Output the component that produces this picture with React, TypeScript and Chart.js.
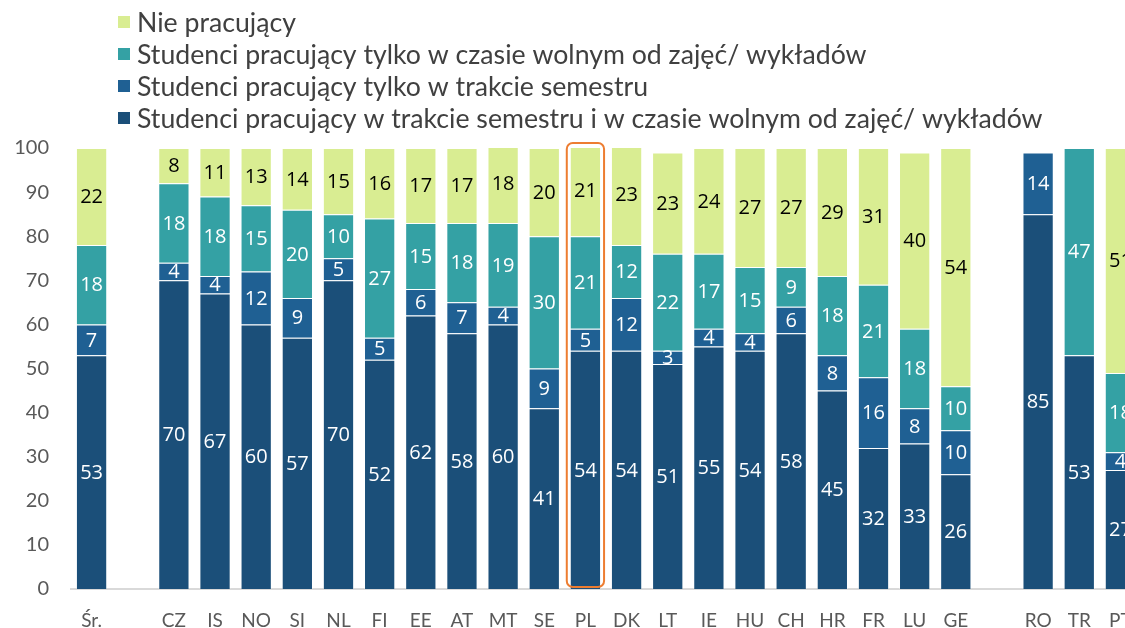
import React, { useEffect, useRef } from 'react';
import { Chart, registerables } from 'chart.js';
Chart.register(...registerables);

const categories = ['Śr.', '', 'CZ', 'IS', 'NO', 'SI', 'NL', 'FI', 'EE', 'AT', 'MT', 'SE', 'PL', 'DK', 'LT', 'IE', 'HU', 'CH', 'HR', 'FR', 'LU', 'GE', ' ', 'RO', 'TR', 'PT'];
const bothValues = [53, null, 70, 67, 60, 57, 70, 52, 62, 58, 60, 41, 54, 54, 51, 55, 54, 58, 45, 32, 33, 26, null, 85, 53, 27];
const semesterOnly = [7, null, 4, 4, 12, 9, 5, 5, 6, 7, 4, 9, 5, 12, 3, 4, 4, 6, 8, 16, 8, 10, null, 14, 0, 4];
const freeTimeOnly = [18, null, 18, 18, 15, 20, 10, 27, 15, 18, 19, 30, 21, 12, 22, 17, 15, 9, 18, 21, 18, 10, null, 0, 47, 18];
const notWorking = [22, null, 8, 11, 13, 14, 15, 16, 17, 17, 18, 20, 21, 23, 23, 24, 27, 27, 29, 31, 40, 54, null, 0, 0, 51];
const seriesLabels = [
  'Studenci pracujący w trakcie semestru i w czasie wolnym od zajęć/ wykładów',
  'Studenci pracujący tylko w trakcie semestru',
  'Studenci pracujący tylko w czasie wolnym od zajęć/ wykładów',
  'Nie pracujący',
];
const seriesColors = ['#1B4F79', '#1F6093', '#34A1A4', '#D9ED92'];
const labelColors = ['#FFFFFF', '#FFFFFF', '#FFFFFF', '#000000'];
const highlighted = 'PL';

const AXIS_FONT = 'Lato, "DejaVu Sans", sans-serif';
const VALUE_FONT = '"Open Sans", "Noto Sans", sans-serif';

const valueLabelPlugin = {
  id: 'valueLabels',
  afterDatasetsDraw(chart: any) {
    const ctx = chart.ctx;
    ctx.save();
    ctx.font = `20px ${VALUE_FONT}`;
    ctx.textAlign = 'center';
    ctx.textBaseline = 'middle';
    chart.data.datasets.forEach((ds: any, di: number) => {
      const meta = chart.getDatasetMeta(di);
      meta.data.forEach((el: any, i: number) => {
        const v = ds.data[i];
        if (v == null || v === 0) return;
        ctx.fillStyle = labelColors[di];
        ctx.fillText(String(v), el.x, (el.y + el.base) / 2 + 1);
      });
    });
    ctx.restore();
  },
};

const highlightPlugin = {
  id: 'highlight',
  afterDatasetsDraw(chart: any) {
    const idx = categories.indexOf(highlighted);
    const el = chart.getDatasetMeta(0).data[idx];
    if (!el) return;
    const y = chart.scales.y;
    const ctx = chart.ctx;
    const left = el.x - el.width / 2 - 3;
    const right = el.x + el.width / 2 + 3;
    const top = y.getPixelForValue(100) - 5;
    const bottom = y.getPixelForValue(0) - 2;
    ctx.save();
    ctx.strokeStyle = '#ED7D31';
    ctx.lineWidth = 2;
    ctx.beginPath();
    ctx.roundRect(left, top, right - left, bottom - top, 6);
    ctx.stroke();
    ctx.restore();
  },
};

const legendPlugin = {
  id: 'customLegend',
  afterDraw(chart: any) {
    const ctx = chart.ctx;
    ctx.save();
    const rows = [22, 54, 86, 118];
    const n = chart.data.datasets.length;
    ctx.font = `20px ${AXIS_FONT}`;
    const w = ctx.measureText(seriesLabels[0]).width;
    const size = 20 * (906 / w);
    ctx.font = `${size}px ${AXIS_FONT}`;
    ctx.textBaseline = 'middle';
    ctx.textAlign = 'left';
    for (let r = 0; r < n; r++) {
      const di = n - 1 - r;
      const ds = chart.data.datasets[di];
      ctx.fillStyle = ds.backgroundColor;
      ctx.fillRect(118, rows[r] - 6, 12, 12);
      ctx.fillStyle = '#404040';
      ctx.fillText(ds.label, 137, rows[r] + 1);
    }
    ctx.restore();
  },
};

export default function App() {
  const ref = useRef<HTMLCanvasElement>(null);
  useEffect(() => {
    if (!ref.current) return;
    const values = [bothValues, semesterOnly, freeTimeOnly, notWorking];
    const chart = new Chart(ref.current, {
      type: 'bar',
      data: {
        labels: categories,
        datasets: values.map((d, i) => ({
          label: seriesLabels[i],
          data: d,
          backgroundColor: seriesColors[i],
          borderColor: 'rgba(255,255,255,0.3)',
          borderWidth: 1,
          barPercentage: 0.76,
          categoryPercentage: 1,
        })),
      },
      options: {
        animation: false,
        responsive: false,
        maintainAspectRatio: false,
        layout: { padding: { top: 148, left: 0, right: 0, bottom: 0 } },
        plugins: {
          legend: { display: false },
          tooltip: { enabled: false },
        },
        scales: {
          x: {
            stacked: true,
            grid: { display: false, drawTicks: false },
            border: { display: true, color: '#D9D9D9', width: 2 },
            ticks: { color: '#595959', font: { family: AXIS_FONT, size: 19 }, padding: 20, autoSkip: false, maxRotation: 0 },
            afterFit: (s: any) => { s.height = 39; s.paddingLeft = 0; s.paddingRight = 0; },
          },
          y: {
            stacked: true,
            min: 0,
            max: 100,
            grid: { display: false, drawTicks: false },
            border: { display: false },
            ticks: { stepSize: 10, color: '#595959', font: { family: AXIS_FONT, size: 20 }, padding: 22 },
            afterFit: (s: any) => { s.width = 71; s.paddingTop = 0; s.paddingBottom = 0; },
          },
        },
      },
      plugins: [valueLabelPlugin, highlightPlugin, legendPlugin],
    });
    return () => chart.destroy();
  }, []);
  return (
    <div style={{ position: 'absolute', left: 0, top: 0, width: 1125, height: 628, overflow: 'hidden', background: '#fff' }}>
      <canvas ref={ref} width={1141} height={628} style={{ display: 'block', width: 1141, height: 628 }} />
    </div>
  );
}
